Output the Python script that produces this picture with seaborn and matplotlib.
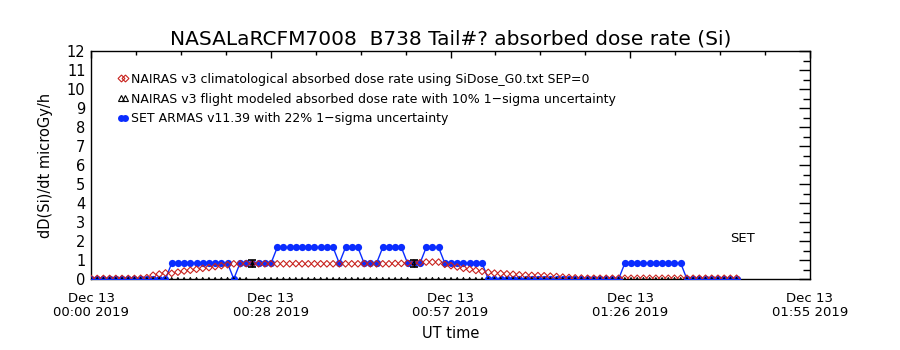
import numpy as np
import pandas as pd
import matplotlib
matplotlib.use("Agg")
import matplotlib.pyplot as plt
import seaborn as sns
from matplotlib.lines import Line2D
from matplotlib.ticker import FixedLocator, MultipleLocator

# Sample times: minutes after 2019-12-13 00:00 UT (one-minute cadence)
minutes = np.arange(0, 105)

# SET ARMAS v11.39 absorbed dose rate (microGy/h)
armas = [
    0, 0, 0, 0, 0, 0, 0, 0, 0, 0,
    0, 0, 0, 0.83, 0.83, 0.83, 0.83, 0.83, 0.83, 0.83,
    0.83, 0.83, 0.83, 0, 0.83, 0.83, 0.83, 0.83, 0.83, 0.83,
    1.66, 1.66, 1.66, 1.66, 1.66, 1.66, 1.66, 1.66, 1.66, 1.66,
    0.83, 1.66, 1.66, 1.66, 0.83, 0.83, 0.83, 1.66, 1.66, 1.66,
    1.66, 0.83, 0.83, 0.83, 1.66, 1.66, 1.66, 0.83, 0.83, 0.83,
    0.83, 0.83, 0.83, 0.83, 0, 0, 0, 0, 0, 0,
    0, 0, 0, 0, 0, 0, 0, 0, 0, 0,
    0, 0, 0, 0, 0, 0, 0.83, 0.83, 0.83, 0.83,
    0.83, 0.83, 0.83, 0.83, 0.83, 0.83, 0, 0, 0, 0,
    0, 0, 0, 0, 0,
]

# NAIRAS v3 climatological absorbed dose rate (microGy/h)
climatology = [
    0.03, 0.03, 0.03, 0.03, 0.03, 0.03, 0.03, 0.03, 0.04, 0.07,
    0.20, 0.26, 0.32, 0.30, 0.36, 0.42, 0.46, 0.51, 0.56, 0.60,
    0.65, 0.70, 0.75, 0.80, 0.80, 0.81, 0.80, 0.80, 0.80, 0.80,
    0.80, 0.80, 0.80, 0.81, 0.80, 0.80, 0.80, 0.80, 0.80, 0.80,
    0.80, 0.80, 0.80, 0.80, 0.81, 0.80, 0.80, 0.80, 0.80, 0.82,
    0.82, 0.83, 0.84, 0.86, 0.89, 0.89, 0.89, 0.77, 0.70, 0.63,
    0.56, 0.51, 0.45, 0.40, 0.35, 0.31, 0.29, 0.27, 0.25, 0.22,
    0.20, 0.19, 0.18, 0.17, 0.15, 0.13, 0.10, 0.08, 0.06, 0.05,
    0.04, 0.04, 0.04, 0.04, 0.04, 0.04, 0.04, 0.04, 0.04, 0.04,
    0.04, 0.04, 0.04, 0.04, 0.04, 0.04, 0.04, 0.04, 0.04, 0.04,
    0.04, 0.04, 0.04, 0.04, 0.04,
]

# NAIRAS v3 flight-modeled absorbed dose rate (microGy/h) and its 1-sigma band
flight = [0.0] * 26 + [0.83] + [0.0] * 25 + [0.83] + [0.0] * 52
flight_err = [0.0] * 26 + [0.18] + [0.0] * 25 + [0.18] + [0.0] * 52

x_tick_labels = [
    "Dec 13\n00:00 2019",
    "Dec 13\n00:28 2019",
    "Dec 13\n00:57 2019",
    "Dec 13\n01:26 2019",
    "Dec 13\n01:55 2019",
]
t_end = 115.83  # axis end, minutes

legend_labels = [
    "NAIRAS v3 climatological absorbed dose rate using SiDose_G0.txt SEP=0",
    "NAIRAS v3 flight modeled absorbed dose rate with 10% 1\u2212sigma uncertainty",
    "SET ARMAS v11.39 with 22% 1\u2212sigma uncertainty",
]

df = pd.DataFrame({
    "minute": minutes,
    "armas": armas,
    "clim": climatology,
    "flight": flight,
    "flight_err": flight_err,
})

sns.set_style("white")
plt.rcParams["font.family"] = ["DejaVu Sans"]
plt.rcParams["text.color"] = "black"
plt.rcParams["axes.labelcolor"] = "black"
plt.rcParams["xtick.color"] = "black"
plt.rcParams["ytick.color"] = "black"

BLUE = "#0a2cff"
RED = "#c8231e"

fig = plt.figure(figsize=(9, 3.5), dpi=100)
ax = fig.add_axes([91 / 900, 71 / 350, 719 / 900, 228 / 350])

sns.lineplot(data=df, x="minute", y="armas", ax=ax, color=BLUE, lw=1.0,
             marker="o", markersize=5.2, markeredgewidth=0,
             markerfacecolor=BLUE, zorder=3)
sns.scatterplot(data=df, x="minute", y="clim", ax=ax, marker="D", s=11,
                facecolor="none", edgecolor=RED, linewidth=0.8, zorder=4)
sns.scatterplot(data=df, x="minute", y="flight", ax=ax, marker="^", s=5,
                facecolor="none", edgecolor="black", linewidth=0.7, zorder=5)
sub = df[df["flight_err"] > 0]
ax.errorbar(sub["minute"], sub["flight"], yerr=sub["flight_err"], fmt="none",
            ecolor="black", elinewidth=1.0, capsize=3, capthick=1.2, zorder=6)

ax.set_xlim(0, t_end)
ax.set_ylim(0, 12)
ax.xaxis.set_major_locator(FixedLocator(np.linspace(0, t_end, 5)))
ax.xaxis.set_minor_locator(FixedLocator(np.linspace(0, t_end, 17)))
ax.set_xticklabels(x_tick_labels, fontsize=9.5, linespacing=1.15)
ax.yaxis.set_major_locator(MultipleLocator(1))
ax.yaxis.set_minor_locator(MultipleLocator(0.5))
ax.tick_params(axis="y", labelsize=10.5)

ax.tick_params(which="both", direction="in", top=True, right=True,
               color="black", width=1.0)
ax.tick_params(axis="x", which="major", length=5, pad=9)
ax.tick_params(axis="x", which="minor", length=3)
ax.tick_params(axis="y", which="major", length=8, pad=4)
ax.tick_params(axis="y", which="minor", length=5)
for sp in ax.spines.values():
    sp.set_color("black")
    sp.set_linewidth(1.0)

ax.set_xlabel("UT time", fontsize=10.5, labelpad=5)
ax.set_ylabel("dD(Si)/dt microGy/h", fontsize=10.5, labelpad=10)
ax.set_title("NASALaRCFM7008  B738 Tail#? absorbed dose rate (Si)",
             fontsize=14.5, pad=5, color="black")

handles = [
    Line2D([], [], ls="none", marker="D", ms=3.5, mfc="none", mec=RED, mew=0.8),
    Line2D([], [], ls="none", marker="^", ms=4.5, mfc="none", mec="black", mew=0.8),
    Line2D([], [], ls="-", lw=1.0, color=BLUE, marker="o", ms=5, mew=0, mfc=BLUE),
]
ax.legend(handles, legend_labels, loc="upper left", bbox_to_anchor=(0.037, 0.905),
          frameon=False, numpoints=2, handlelength=0.9, handletextpad=0.15,
          labelspacing=0.55, fontsize=9, borderpad=0, borderaxespad=0)

ax.text(105, 2.15, "SET", ha="center", va="center", fontsize=9.5)

fig.savefig("out.png", dpi=100, facecolor="white")
